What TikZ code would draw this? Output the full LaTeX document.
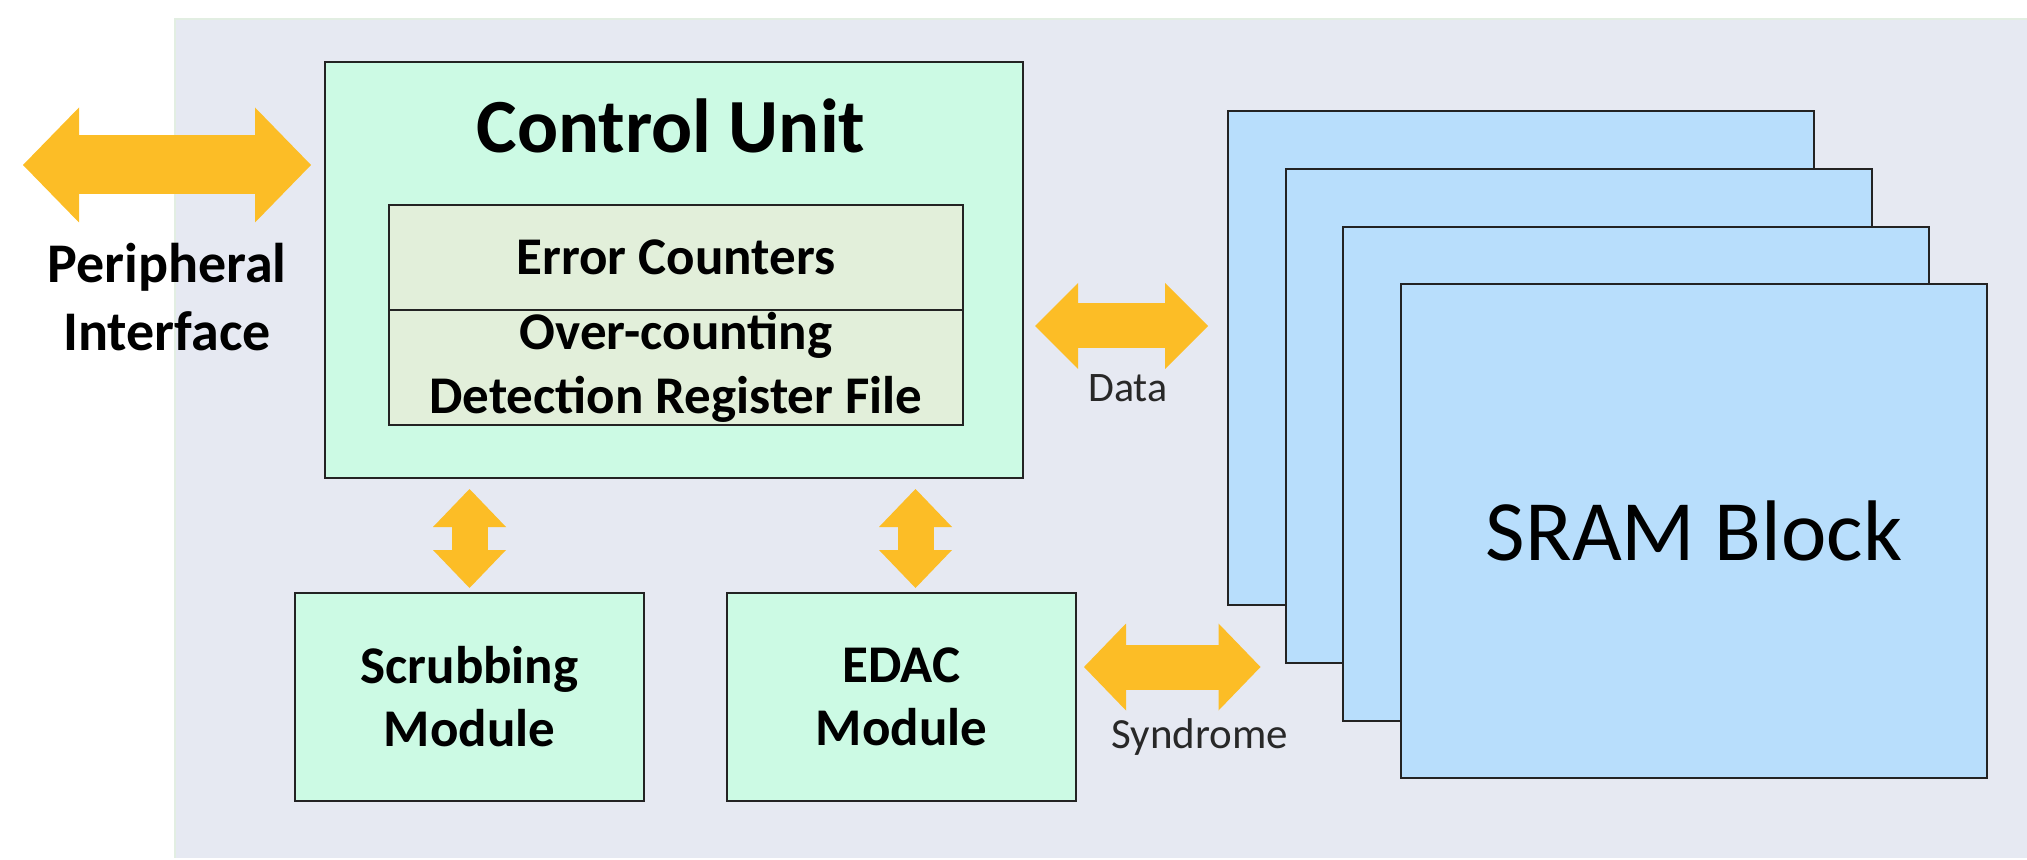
\documentclass[tikz,border=0pt]{standalone}
\usepackage{fontspec}
\setmainfont{Carlito}
\usetikzlibrary{arrows.meta,calc}
\definecolor{bgpanel}{RGB}{230,233,242}
\definecolor{panelline}{RGB}{226,238,226}
\definecolor{mint}{RGB}{204,250,228}
\definecolor{olivebox}{RGB}{226,239,218}
\definecolor{sramblue}{RGB}{184,222,252}
\definecolor{gold}{RGB}{252,189,38}
\definecolor{edgecol}{RGB}{35,35,35}
\definecolor{labcol}{RGB}{40,40,40}
\begin{document}
\begin{tikzpicture}[x=0.5pt,y=-0.5pt,
  box/.style={draw=edgecol, line width=1pt, rectangle, inner sep=0pt, anchor=north west},
  cubox/.style={box, fill=mint, minimum width=349pt, minimum height=208pt},
  regbox/.style={box, fill=olivebox, minimum width=287pt, align=center,
    font=\bfseries\fontsize{26.5}{32}\selectfont},
  modbox/.style={box, fill=mint, minimum width=174.5pt, minimum height=104pt, align=center,
    font=\bfseries\fontsize{26.5}{31.5}\selectfont},
  srambox/.style={box, fill=sramblue, minimum width=293pt, minimum height=247pt,
    font=\fontsize{43}{50}\selectfont},
  fat/.style n args={3}{draw=gold, line width=#1,
    arrows={Triangle[width=#2,length=#3,line width=0pt]-Triangle[width=#2,length=#3,line width=0pt]}},
  lab/.style={text=labcol, inner sep=0pt, anchor=base},
]
\useasboundingbox (0,0) rectangle (2027,860);
% background panel
\fill[bgpanel] (175,19) rectangle (2027,858);
\draw[panelline, line width=1pt] (175,858) -- (175,19) -- (2027,19);

% control unit
\node[cubox] (cu) at (324,61) {};
\node[lab, text=black, font=\bfseries\fontsize{38.3}{44}\selectfont] (cutitle) at (671,153) {Control Unit};
\node[regbox, minimum height=52.5pt] (ec) at (388,204) {Error Counters};
\node[regbox, minimum height=57.5pt] (od) at (388,309) {Over-counting\\Detection Register File};

% modules
\node[modbox] (sc) at (294,592) {Scrubbing\\Module};
\node[modbox] (ed) at (726,592) {EDAC\\Module};

% SRAM blocks
\node[srambox] (b1) at (1227,110) {};
\node[srambox] (b2) at (1284.5,168) {};
\node[srambox] (b3) at (1342,226) {};
\node[srambox] (b4) at (1400,283) {SRAM Block};

% peripheral interface
\node[align=center, inner sep=0pt, font=\bfseries\fontsize{28}{34}\selectfont] (pi) at (167,297) {Peripheral\\Interface};
\coordinate (pl) at (23,165);
\draw[fat={29.5pt}{57.5pt}{28pt}, shorten >=6.5pt] (pl) -- (pl -| cu.west);

% data
\draw[fat={22.5pt}{43pt}{21.5pt}, shorten <=5.5pt, shorten >=9.5pt]
  ([yshift=-28pt]cu.east) -- ([yshift=-28pt]cu.east -| b1.west);
\node[lab, font=\fontsize{21}{24}\selectfont] (datalbl) at (1128,402) {Data};

% vertical links
\draw[fat={18pt}{36.5pt}{19pt}, shorten <=5pt, shorten >=2pt]
  (sc.north |- cu.south) -- (sc.north);
\draw[fat={18pt}{36.5pt}{19pt}, shorten <=5pt, shorten >=2pt]
  ([xshift=7pt]ed.north |- cu.south) -- ([xshift=7pt]ed.north);

% syndrome
\draw[fat={22.5pt}{43.5pt}{21pt}, shorten <=3.5pt, shorten >=12pt]
  ([yshift=15pt]ed.east) -- ([yshift=15pt]ed.east -| b2.west);
\node[lab, font=\fontsize{21.5}{25}\selectfont] (synlbl) at (1200,748) {Syndrome};
\end{tikzpicture}
\end{document}
